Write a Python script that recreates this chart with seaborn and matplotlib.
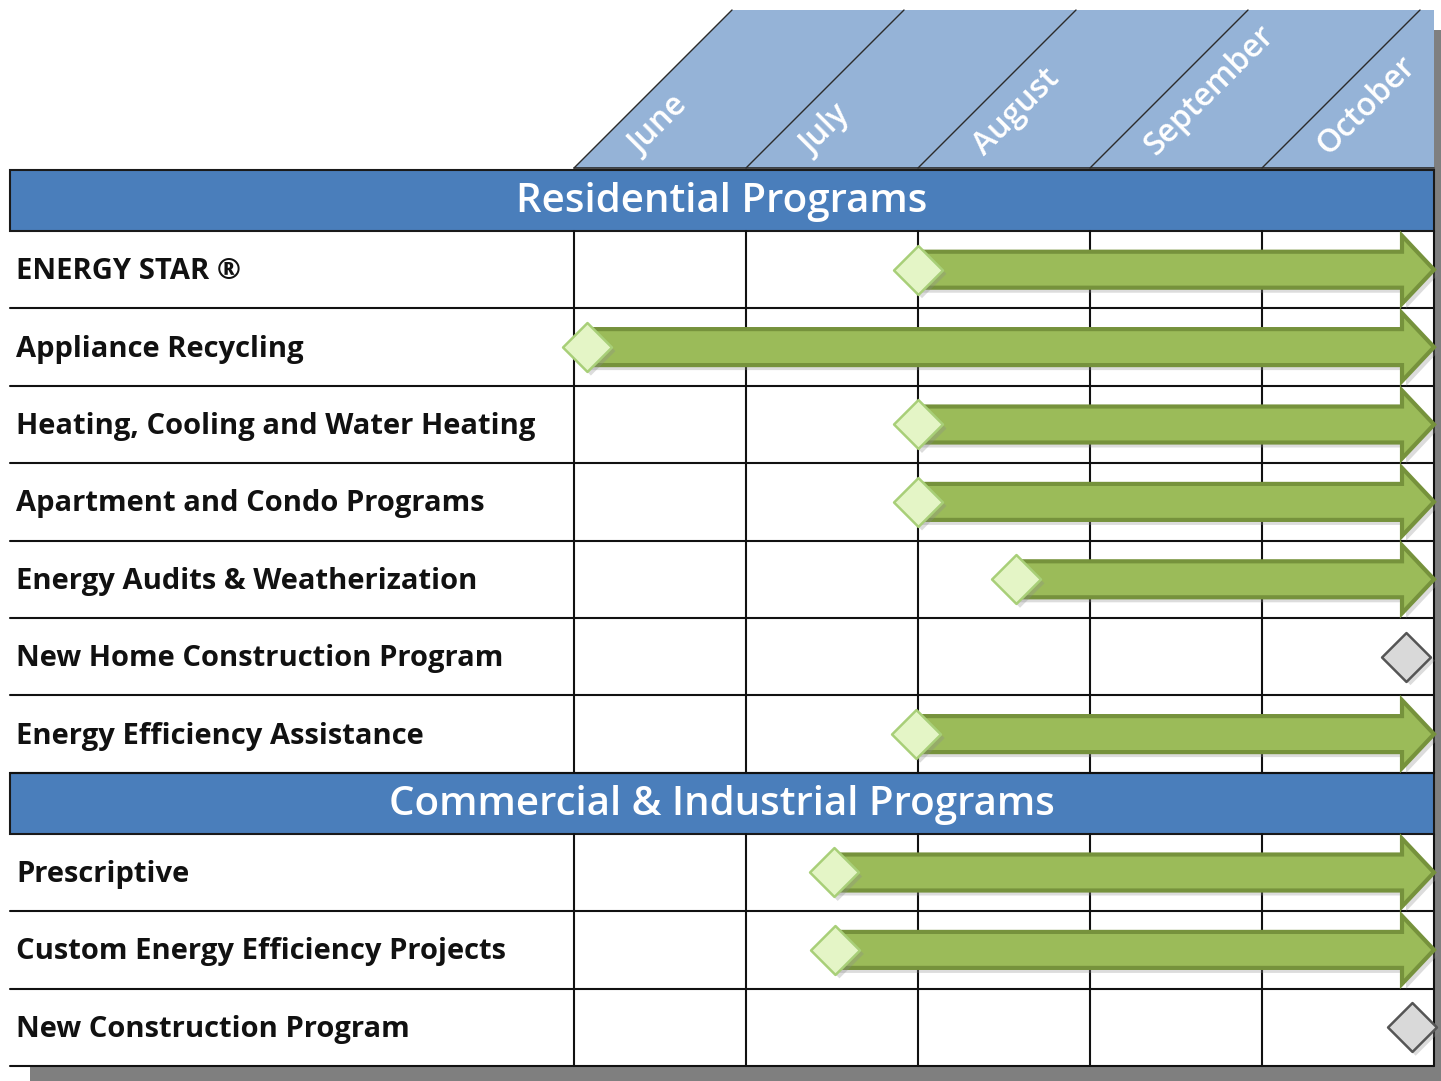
import matplotlib
matplotlib.use("Agg")
import matplotlib.pyplot as plt
from matplotlib.patches import Polygon, Rectangle
import numpy as np
import pandas as pd
import seaborn as sns

# ---------------- data ----------------
months = ["June", "July", "August", "September", "October"]
group_titles = ["Residential Programs", "Commercial & Industrial Programs"]

res_programs = ["ENERGY STAR \u00ae", "Appliance Recycling", "Heating, Cooling and Water Heating",
                "Apartment and Condo Programs", "Energy Audits & Weatherization",
                "New Home Construction Program", "Energy Efficiency Assistance"]
res_start = [2.0, 0.075, 2.0, 2.0, 2.57, np.nan, 1.99]      # month units (0 = start of June)
res_end = [5.0, 5.0, 5.0, 5.0, 5.0, np.nan, 5.0]
res_milestone = [np.nan, np.nan, np.nan, np.nan, np.nan, 4.84, np.nan]

ci_programs = ["Prescriptive", "Custom Energy Efficiency Projects", "New Construction Program"]
ci_start = [1.51, 1.52, np.nan]
ci_end = [5.0, 5.0, np.nan]
ci_milestone = [np.nan, np.nan, 4.87]

# ---------------- layout (pixels) ----------------
W, H = 1441, 1081
X0_PX, COL_PX = 574, 172          # June start, month width
LEFT_PX = 10
HDR_TOP, HDR_BOT = 10, 168
BAND_H = 61
ROW_H = 77.4


def mx(px):
    return (px - X0_PX) / COL_PX


sns.set_theme(style="white")
plt.rcParams["font.family"] = ["Open Sans", "DejaVu Sans"]

fig = plt.figure(figsize=(W / 100, H / 100), dpi=100)
ax = fig.add_axes([0, 0, 1, 1])
ax.set_xlim(mx(0), mx(W))
ax.set_ylim(H, 0)
ax.axis("off")

n_months = len(months)
right = float(n_months)
left = mx(LEFT_PX)

# shadows of whole panel
ax.add_patch(Rectangle((right, 30), mx(W + 10) - right, H, facecolor="#7f7f7f", edgecolor="none", zorder=0))
ax.add_patch(Rectangle((mx(30), 1067), mx(W + 10) - mx(30), 20, facecolor="#7f7f7f", edgecolor="none", zorder=0))
ax.add_patch(Rectangle((left, 168), right - left, 1066 - 168, facecolor="white", edgecolor="none", zorder=0.5))

# slanted month header
slant = (HDR_BOT - HDR_TOP) / COL_PX
ax.add_patch(Polygon([(0, HDR_BOT), (slant, HDR_TOP), (right, HDR_TOP), (right, HDR_BOT)],
                     closed=True, facecolor="#95b3d7", edgecolor="none", zorder=1))
for i, m in enumerate(months):
    ax.plot([i, i + slant], [HDR_BOT, HDR_TOP], color="#2b2b2b", lw=1.0, zorder=2)
    ax.text(i + mx(X0_PX + 66), HDR_BOT - 12, m, rotation=45, rotation_mode="anchor",
            ha="left", va="baseline", color="white", fontsize=23, fontweight="semibold", zorder=3)
ax.plot([0, right], [HDR_BOT, HDR_BOT], color="#2b2b2b", lw=1.2, zorder=2)

# build row table
rows = []
y = 170
groups = [(group_titles[0], res_programs, res_start, res_end, res_milestone),
          (group_titles[1], ci_programs, ci_start, ci_end, ci_milestone)]
band_pos = []
row_spans = []
for title, names, starts, ends, miles in groups:
    band_pos.append((title, y))
    y += BAND_H
    top = y
    for n, s, e, mi in zip(names, starts, ends, miles):
        rows.append(dict(name=n, start=s, end=e, mile=mi, yc=y + ROW_H / 2, top=y))
        y += ROW_H
    row_spans.append((top, y))
bottom = y
df = pd.DataFrame(rows)

# bands
for title, yt in band_pos:
    ax.add_patch(Rectangle((left, yt), right - left, BAND_H, facecolor="#4a7ebb",
                           edgecolor="#1a1a1a", lw=1.5, zorder=2))
    ax.text((left + right) / 2, yt + BAND_H / 2 + 2, title, ha="center", va="center",
            color="white", fontsize=29, fontweight="semibold", zorder=3)

# grid lines
for top, bot in row_spans:
    for i in range(n_months + 1):
        ax.plot([i, i], [top, bot], color="#111111", lw=1.5, zorder=2)
for r in rows:
    ax.plot([left, right], [r["top"] + ROW_H, r["top"] + ROW_H], color="#111111", lw=1.5, zorder=2)

# row labels
for r in rows:
    ax.text(mx(16), r["yc"] + 2, r["name"], ha="left", va="center", fontsize=21,
            fontweight="bold", color="#111111", zorder=3)

# arrows
SH, HH, HL = 18, 34, 32 / COL_PX
for r in rows:
    if np.isnan(r["start"]):
        continue
    s, e, yc = r["start"], r["end"], r["yc"]
    pts = np.array([(s, yc - SH), (e - HL, yc - SH), (e - HL, yc - HH), (e, yc),
                    (e - HL, yc + HH), (e - HL, yc + SH), (s, yc + SH)])
    sh = pts + np.array([4 / COL_PX, 5])
    ax.add_patch(Polygon(sh, closed=True, facecolor="#8c8c8c", edgecolor="none", alpha=0.3, zorder=3))
    ax.add_patch(Polygon(pts, closed=True, facecolor="#9bbb59", edgecolor="#76923c", lw=3,
                         joinstyle="miter", zorder=4))

# diamonds
starts_df = df.dropna(subset=["start"])
miles_df = df.dropna(subset=["mile"])
sns.scatterplot(x=starts_df["start"] + 4 / COL_PX, y=starts_df["yc"] + 4, marker="D", s=620,
                color="#8c8c8c", alpha=0.3, edgecolor="none", ax=ax, zorder=5, legend=False)
sns.scatterplot(x=starts_df["start"], y=starts_df["yc"], marker="D", s=620,
                color="#e4f5c6", edgecolor="#a8cf78", linewidth=1.8, ax=ax, zorder=6, legend=False)
sns.scatterplot(x=miles_df["mile"] + 4 / COL_PX, y=miles_df["yc"] + 4, marker="D", s=620,
                color="#8c8c8c", alpha=0.3, edgecolor="none", ax=ax, zorder=5, legend=False)
sns.scatterplot(x=miles_df["mile"], y=miles_df["yc"], marker="D", s=620,
                color="#d9d9d9", edgecolor="#555555", linewidth=1.8, ax=ax, zorder=6, legend=False)

ax.set_xlim(mx(0), mx(W))
ax.set_ylim(H, 0)
ax.axis("off")
fig.savefig("out.png", dpi=100)
